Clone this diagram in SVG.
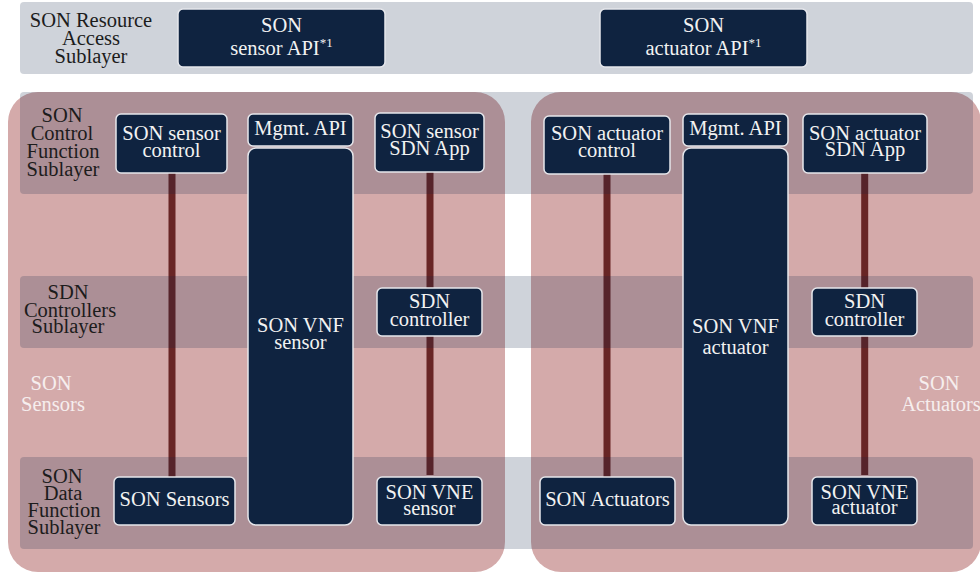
<svg xmlns="http://www.w3.org/2000/svg" width="980" height="574" viewBox="0 0 980 574">
<style>
text{font-family:'Liberation Serif','DejaVu Serif','Noto Serif','Tinos','Times New Roman','FreeSerif','Nimbus Roman','Nimbus Roman No9 L',Georgia,serif;font-size:20.5px;text-anchor:middle}
.lbl{fill:#1c1c1c}
.wl{fill:#f6eeee}
.nt{fill:#f2f2f2}
.sup{font-size:13px}
.node{fill:#0f2340;stroke:#e6e7ec;stroke-width:1.5}
.band{fill:#0f2346;fill-opacity:0.2}
.zone{fill:#d4aaaa}
.conn{stroke:#682525;stroke-width:7;fill:none}
</style>
<rect width="980" height="574" fill="#ffffff"/>
<g id="zones">
<rect class="zone" x="8" y="92" width="497" height="480" rx="30"/>
<rect class="zone" x="531" y="92" width="450" height="480" rx="30"/>
</g>
<g id="connectors">
<line class="conn" x1="172" y1="173" x2="172" y2="477"/>
<line class="conn" x1="430" y1="172" x2="430" y2="475"/>
<line class="conn" x1="607" y1="174" x2="607" y2="477"/>
<line class="conn" x1="864.7" y1="173" x2="864.7" y2="475"/>
</g>
<g id="bands">
<rect class="band" x="20" y="2" width="953" height="72" rx="4"/>
<rect class="band" x="20" y="92" width="953" height="102" rx="4"/>
<rect class="band" x="20" y="276" width="953" height="72" rx="4"/>
<rect class="band" x="20" y="457" width="953" height="92" rx="4"/>
</g>
<g id="labels" font-family="Liberation Serif, serif">
<text class="lbl" x="91" y="26.5">SON Resource</text>
<text class="lbl" x="91" y="45">Access</text>
<text class="lbl" x="91" y="62.5">Sublayer</text>
<text class="lbl" x="62" y="121.5">SON</text>
<text class="lbl" x="62" y="140">Control</text>
<text class="lbl" x="63" y="158">Function</text>
<text class="lbl" x="63" y="175.5">Sublayer</text>
<text class="lbl" x="68" y="299">SDN</text>
<text class="lbl" x="70" y="316.5">Controllers</text>
<text class="lbl" x="68" y="333">Sublayer</text>
<text class="lbl" x="62" y="482.5">SON</text>
<text class="lbl" x="63" y="500">Data</text>
<text class="lbl" x="64" y="517">Function</text>
<text class="lbl" x="64" y="533.5">Sublayer</text>
<text class="wl" x="51" y="390">SON</text>
<text class="wl" x="53" y="410.5">Sensors</text>
<text class="wl" x="939" y="390">SON</text>
<text class="wl" x="941" y="410.5">Actuators</text>
</g>
<g id="sensorAPI">
<rect class="node" x="178" y="9" width="207" height="58" rx="5"/>
<text class="nt" x="281.5" y="31.5">SON</text>
<text class="nt" x="281.5" y="54.5">sensor API<tspan class="sup" dy="-8">*1</tspan></text>
</g>
<g id="actuatorAPI">
<rect class="node" x="600" y="9" width="207" height="58" rx="5"/>
<text class="nt" x="703.5" y="31.5">SON</text>
<text class="nt" x="703.5" y="54.5">actuator API<tspan class="sup" dy="-8">*1</tspan></text>
</g>
<g id="sensorControl">
<rect class="node" x="116" y="114" width="111" height="59" rx="5"/>
<text class="nt" x="171.5" y="140">SON sensor</text>
<text class="nt" x="171.5" y="156.5">control</text>
</g>
<g id="mgmtApiSensor">
<rect class="node" x="248" y="114" width="105" height="32" rx="5"/>
<text class="nt" x="300.5" y="135">Mgmt. API</text>
</g>
<g id="vnfSensor">
<rect class="node" x="248" y="148" width="105" height="377" rx="8"/>
<text class="nt" x="300.5" y="332">SON VNF</text>
<text class="nt" x="300.5" y="349">sensor</text>
</g>
<g id="sensorSdnApp">
<rect class="node" x="375" y="113" width="109" height="59" rx="5"/>
<text class="nt" x="429.5" y="138">SON sensor</text>
<text class="nt" x="429.5" y="154.5">SDN App</text>
</g>
<g id="sdnControllerSensor">
<rect class="node" x="377" y="288" width="105" height="48" rx="5"/>
<text class="nt" x="429.5" y="307.5">SDN</text>
<text class="nt" x="429.5" y="325.5">controller</text>
</g>
<g id="sonSensors">
<rect class="node" x="114" y="477" width="121" height="48" rx="5"/>
<text class="nt" x="174.5" y="505.5">SON Sensors</text>
</g>
<g id="vneSensor">
<rect class="node" x="377" y="477" width="105" height="48" rx="5"/>
<text class="nt" x="429.5" y="499">SON VNE</text>
<text class="nt" x="429.5" y="515">sensor</text>
</g>
<g id="actuatorControl">
<rect class="node" x="544" y="116" width="126" height="58" rx="5"/>
<text class="nt" x="607" y="140">SON actuator</text>
<text class="nt" x="607" y="157">control</text>
</g>
<g id="mgmtApiActuator">
<rect class="node" x="683" y="114" width="105" height="32" rx="5"/>
<text class="nt" x="735.5" y="135">Mgmt. API</text>
</g>
<g id="vnfActuator">
<rect class="node" x="683" y="148" width="105" height="377" rx="8"/>
<text class="nt" x="735.5" y="332.5">SON VNF</text>
<text class="nt" x="735.5" y="353.5">actuator</text>
</g>
<g id="actuatorSdnApp">
<rect class="node" x="803" y="114" width="124" height="59" rx="5"/>
<text class="nt" x="865" y="140">SON actuator</text>
<text class="nt" x="865" y="156">SDN App</text>
</g>
<g id="sdnControllerActuator">
<rect class="node" x="812" y="288" width="105" height="48" rx="5"/>
<text class="nt" x="864.5" y="307.5">SDN</text>
<text class="nt" x="864.5" y="325.5">controller</text>
</g>
<g id="sonActuators">
<rect class="node" x="540" y="477" width="135" height="48" rx="5"/>
<text class="nt" x="607.5" y="505.5">SON Actuators</text>
</g>
<g id="vneActuator">
<rect class="node" x="812" y="477" width="105" height="48" rx="5"/>
<text class="nt" x="864.5" y="498.5">SON VNE</text>
<text class="nt" x="864.5" y="514">actuator</text>
</g>
</svg>
